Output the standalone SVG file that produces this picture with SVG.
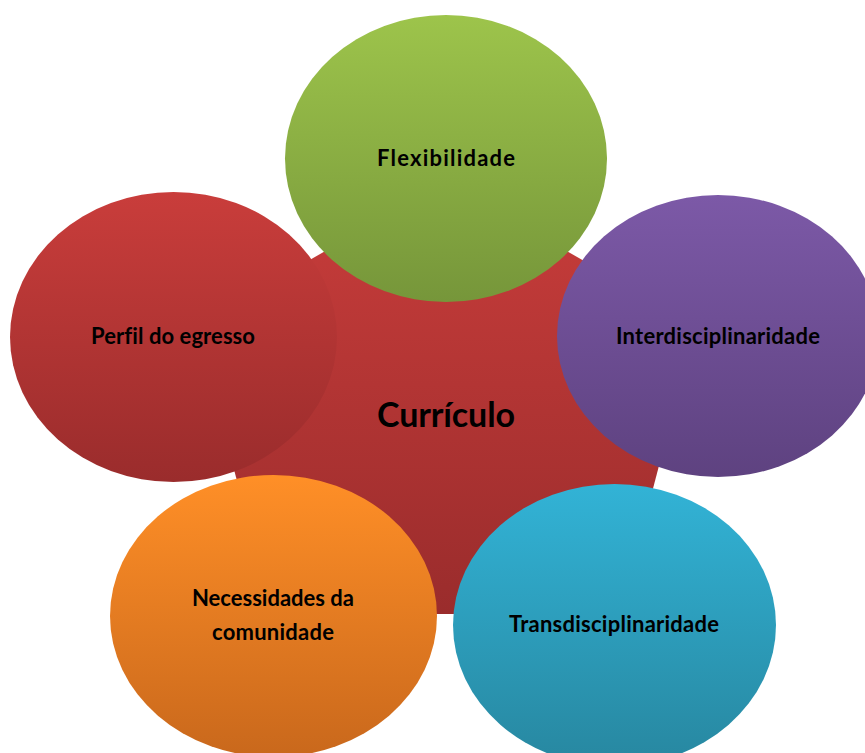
<svg xmlns="http://www.w3.org/2000/svg" width="865" height="753" viewBox="0 0 865 753">
  <defs>
    <linearGradient id="gRed" x1="0" y1="0" x2="0" y2="1">
      <stop offset="0" stop-color="#c93d3b"/>
      <stop offset="1" stop-color="#9a2c2c"/>
    </linearGradient>
    <linearGradient id="gGreen" x1="0" y1="0" x2="0" y2="1">
      <stop offset="0" stop-color="#9dc44b"/>
      <stop offset="1" stop-color="#76963a"/>
    </linearGradient>
    <linearGradient id="gPurple" x1="0" y1="0" x2="0" y2="1">
      <stop offset="0" stop-color="#7c59a7"/>
      <stop offset="1" stop-color="#5e4280"/>
    </linearGradient>
    <linearGradient id="gTeal" x1="0" y1="0" x2="0" y2="1">
      <stop offset="0" stop-color="#32b3d6"/>
      <stop offset="1" stop-color="#2787a0"/>
    </linearGradient>
    <linearGradient id="gOrange" x1="0" y1="0" x2="0" y2="1">
      <stop offset="0" stop-color="#ff8f27"/>
      <stop offset="1" stop-color="#c9681c"/>
    </linearGradient>
  </defs>
  <style>
    text { font-family: Lato, "Liberation Sans", "DejaVu Sans", sans-serif; font-weight: bold; fill: #000; text-anchor: middle; font-variant-ligatures: none; }
    .lbl { font-size: 22px; }
    .big { font-size: 34px; }
  </style>
  <rect width="865" height="753" fill="#ffffff"/>
  <g id="connectors"></g>
  <g id="curriculo">
    <polygon points="446,182 696,325 620,614 272,614 196,325" fill="url(#gRed)"/>
    <text class="big" x="446" y="427" textLength="138">Currículo</text>
  </g>
  <g id="flexibilidade">
    <ellipse cx="446" cy="158.5" rx="161" ry="143.5" fill="url(#gGreen)"/>
    <text class="lbl" x="446" y="166" textLength="138">Flexibilidade</text>
  </g>
  <g id="interdisciplinaridade">
    <ellipse cx="718" cy="336" rx="161" ry="141" fill="url(#gPurple)"/>
    <text class="lbl" x="718" y="344" textLength="204">Interdisciplinaridade</text>
  </g>
  <g id="transdisciplinaridade">
    <ellipse cx="614.5" cy="625" rx="161.5" ry="141" fill="url(#gTeal)"/>
    <text class="lbl" x="614" y="632" textLength="210">Transdisciplinaridade</text>
  </g>
  <g id="necessidades">
    <ellipse cx="273.5" cy="616" rx="163.5" ry="141" fill="url(#gOrange)"/>
    <text class="lbl" x="273" y="606" textLength="162">Necessidades da</text>
    <text class="lbl" x="273" y="640" textLength="122">comunidade</text>
  </g>
  <g id="perfil">
    <ellipse cx="173.5" cy="337" rx="163.5" ry="145" fill="url(#gRed)"/>
    <text class="lbl" x="173" y="344" textLength="164">Perfil do egresso</text>
  </g>
</svg>
